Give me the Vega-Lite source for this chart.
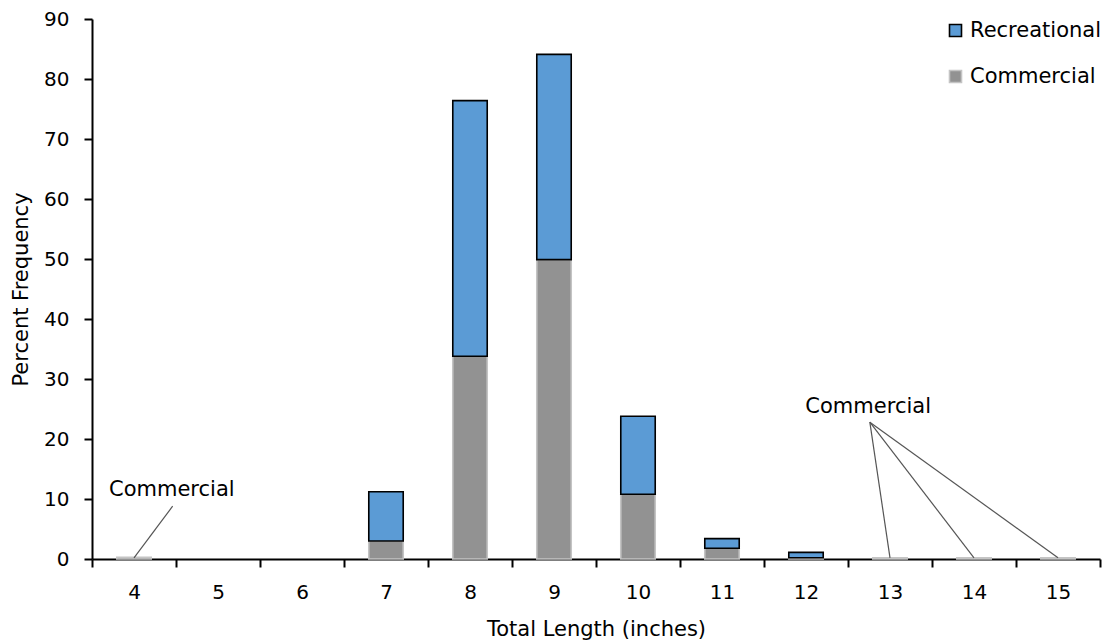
{
  "$schema": "https://vega.github.io/schema/vega-lite/v6.json",
  "autosize": {"type": "none"},
  "width": 1008,
  "height": 540,
  "padding": {"left": 92, "top": 19, "right": 6, "bottom": 84},
  "background": "white",
  "config": {
    "view": {"stroke": null},
    "font": "DejaVu Sans",
    "axis": {"labelFont": "DejaVu Sans", "titleFont": "DejaVu Sans", "labelColor": "#000000", "titleColor": "#000000", "titleFontWeight": "normal", "labelFontSize": 20, "titleFontSize": 21}
  },
  "datasets": {
    "bars": [
      {"length": "4", "sector": "Commercial", "pct": 0.3},
      {"length": "7", "sector": "Commercial", "pct": 3.0},
      {"length": "7", "sector": "Recreational", "pct": 8.2},
      {"length": "8", "sector": "Commercial", "pct": 33.8},
      {"length": "8", "sector": "Recreational", "pct": 42.6},
      {"length": "9", "sector": "Commercial", "pct": 49.9},
      {"length": "9", "sector": "Recreational", "pct": 34.2},
      {"length": "10", "sector": "Commercial", "pct": 10.8},
      {"length": "10", "sector": "Recreational", "pct": 13.0},
      {"length": "11", "sector": "Commercial", "pct": 1.8},
      {"length": "11", "sector": "Recreational", "pct": 1.6},
      {"length": "12", "sector": "Commercial", "pct": 0.2},
      {"length": "12", "sector": "Recreational", "pct": 0.9},
      {"length": "13", "sector": "Commercial", "pct": 0.2},
      {"length": "14", "sector": "Commercial", "pct": 0.2},
      {"length": "15", "sector": "Commercial", "pct": 0.2}
    ],
    "noteLeft": [
      {"label": "Commercial", "from": "4", "to": "4", "y1": 8.8, "y2": 0.2, "ty": 11.5}
    ],
    "noteRight": [
      {"label": "Commercial", "from": "13", "to": "13", "y1": 22.8, "y2": 0.2, "ty": 25.3},
      {"label": "", "from": "13", "to": "14", "y1": 22.8, "y2": 0.2, "ty": 25.3},
      {"label": "", "from": "13", "to": "15", "y1": 22.8, "y2": 0.2, "ty": 25.3}
    ]
  },
  "layer": [
    {
      "data": {"name": "bars"},
      "mark": {"type": "bar", "width": {"band": 0.41}, "strokeWidth": 1.6},
      "encoding": {
        "x": {
          "field": "length", "type": "ordinal",
          "scale": {"domain": ["4","5","6","7","8","9","10","11","12","13","14","15"], "paddingInner": 0, "paddingOuter": 0},
          "axis": {"title": "Total Length (inches)", "labelAngle": 0, "tickBand": "extent", "tickSize": 8, "tickColor": "#000000", "tickWidth": 2, "domainColor": "#000000", "domainWidth": 2, "labelPadding": 15, "titlePadding": 16}
        },
        "y": {
          "field": "pct", "type": "quantitative", "stack": "zero",
          "scale": {"domain": [0, 90], "nice": false},
          "axis": {"title": "Percent Frequency", "values": [0,10,20,30,40,50,60,70,80,90], "grid": false, "tickSize": 8, "tickColor": "#000000", "tickWidth": 2, "domainColor": "#000000", "domainWidth": 2, "labelPadding": 15, "titlePadding": 12}
        },
        "order": {"field": "sector", "sort": "ascending"},
        "fill": {
          "field": "sector", "type": "nominal",
          "scale": {"domain": ["Recreational", "Commercial"], "range": ["#5B9BD5", "#929292"]},
          "legend": {"title": null, "orient": "none", "legendX": 853, "legendY": 1, "symbolType": "square", "symbolSize": 144, "symbolStrokeWidth": 1.6, "labelFontSize": 21, "labelFont": "DejaVu Sans", "labelColor": "#000000", "rowPadding": 24, "labelOffset": 4}
        },
        "stroke": {
          "field": "sector", "type": "nominal",
          "scale": {"domain": ["Recreational", "Commercial"], "range": ["#000000", "#c4c4c4"]},
          "legend": null
        }
      }
    },
    {
      "data": {"name": "noteLeft"},
      "mark": {"type": "rule", "color": "#555555", "strokeWidth": 1.2},
      "encoding": {
        "x": {"field": "from", "type": "ordinal", "bandPosition": 0.96},
        "x2": {"field": "to", "bandPosition": 0.5},
        "y": {"field": "y1", "type": "quantitative"},
        "y2": {"field": "y2"}
      }
    },
    {
      "data": {"name": "noteLeft"},
      "mark": {"type": "text", "fontSize": 21, "font": "DejaVu Sans", "color": "#000000", "align": "center", "baseline": "middle"},
      "encoding": {
        "x": {"field": "from", "type": "ordinal", "bandPosition": 0.95},
        "y": {"field": "ty", "type": "quantitative"},
        "text": {"field": "label"}
      }
    },
    {
      "data": {"name": "noteRight"},
      "mark": {"type": "rule", "color": "#555555", "strokeWidth": 1.2},
      "encoding": {
        "x": {"field": "from", "type": "ordinal", "bandPosition": 0.26},
        "x2": {"field": "to", "bandPosition": 0.5},
        "y": {"field": "y1", "type": "quantitative"},
        "y2": {"field": "y2"}
      }
    },
    {
      "data": {"name": "noteRight"},
      "mark": {"type": "text", "fontSize": 21, "font": "DejaVu Sans", "color": "#000000", "align": "center", "baseline": "middle"},
      "encoding": {
        "x": {"field": "from", "type": "ordinal", "bandPosition": 0.24},
        "y": {"field": "ty", "type": "quantitative"},
        "text": {"field": "label"}
      }
    }
  ]
}
